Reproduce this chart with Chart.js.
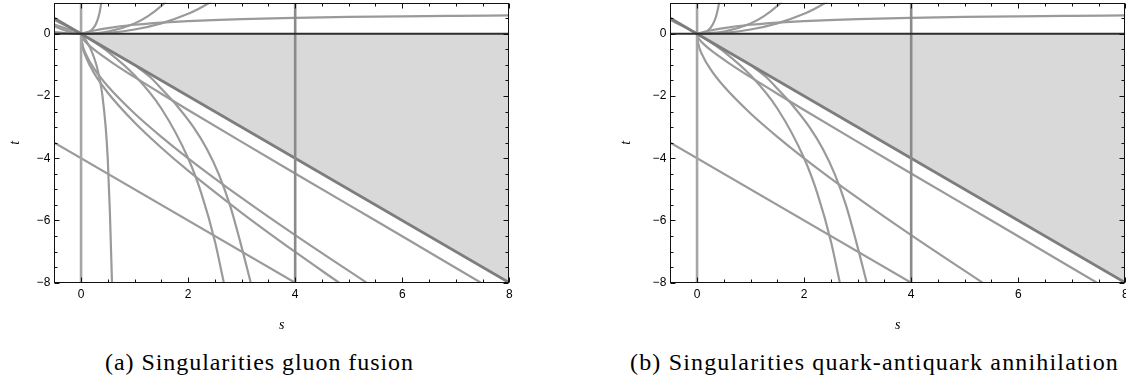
<!DOCTYPE html>
<html><head><meta charset="utf-8">
<script src="https://cdn.jsdelivr.net/npm/chart.js@4.4.1/dist/chart.umd.min.js"></script>
<style>
html,body{margin:0;padding:0;background:#fff;width:1126px;height:383px;overflow:hidden;position:relative}
canvas{position:absolute;top:0}
#ca{left:0px}
#cb{left:616px}
.cap{position:absolute;top:350px;font-size:24px;line-height:24px;white-space:nowrap;color:#000;font-family:'Liberation Serif',serif}
</style></head><body>
<canvas id="ca" width="560" height="345"></canvas>
<canvas id="cb" width="560" height="345"></canvas>
<div class="cap" id="capA">(a) Singularities gluon fusion</div>
<div class="cap" id="capB">(b) Singularities quark-antiquark annihilation</div>
<script>
// ---------- data (s, t values) ----------
const sTickValues = [0, 2, 4, 6, 8];
const tTickValues = [-8, -6, -4, -2, 0];
const sMinorTicks = [0.5, 1, 1.5, 2.5, 3, 3.5, 4.5, 5, 5.5, 6.5, 7, 7.5];
const tMinorTicks = [0.5, -0.5, -1, -1.5, -2.5, -3, -3.5, -4.5, -5, -5.5, -6.5, -7, -7.5];

const regionS = [0, 8];          const regionT = [0, -8];
const sZeroS = [0, 0];           const sZeroT = [1, -8];
const sFourS = [4, 4];           const sFourT = [1, -8];
const tZeroS = [-0.5, 8];        const tZeroT = [0, 0];
const edgeS = [-0.5, 8];         const edgeT = [0.5, -8];
const uFourS = [-0.5, 4];        const uFourT = [-3.5, -8];

const tu4S = [0, 0.02, 0.1, 0.25, 0.5, 1, 1.5, 2, 3, 4, 5.333];
const tu4T = [0, -0.293, -0.684, -1.133, -1.686, -2.562, -3.312, -4, -5.275, -6.472, -8];
const tuBigS = [0, 0.02, 0.1, 0.25, 0.5, 1, 1.5, 2, 3, 4, 4.82];
const tuBigT = [0, -0.335, -0.778, -1.281, -1.894, -2.852, -3.663, -4.4, -5.753, -7.012, -8];
const tuSmallS = [0, 0.01, 0.05, 0.15, 0.3, 0.6, 1, 1.5, 2, 3, 4, 5, 6, 7.47];
const tuSmallT = [0, -0.079, -0.193, -0.372, -0.583, -0.948, -1.394, -1.928, -2.449, -3.475, -4.49, -5.5, -6.507, -8];
const st4S = [-0.5, -0.25, 0, 0.25, 0.5, 1, 1.5, 2, 2.25, 2.5, 2.667];
const st4T = [0.444, 0.235, 0, -0.267, -0.571, -1.333, -2.4, -4, -5.143, -6.667, -8];
const steepS = [-0.5, -0.25, 0, 0.106, 0.183, 0.287, 0.364, 0.4, 0.46, 0.498, 0.537, 0.578];
const steepT = [0.3, 0.15, 0, -0.25, -0.5, -1, -1.6, -2, -3, -4, -5.66, -8];
const c317S = [0.9, 1.01, 1.29, 1.52, 1.81, 2.1, 2.35, 2.57, 2.78, 2.96, 3.17];
const c317T = [-0.8, -1.0, -1.39, -1.8, -2.35, -3.0, -3.7, -4.5, -5.5, -6.6, -8];

const arcAS = [-0.5, -0.25, 0, 0.15, 0.25, 0.3, 0.33, 0.35, 0.37, 0.385];
const arcAT = [0.245, 0.081, 0, 0.061, 0.231, 0.409, 0.573, 0.72, 0.913, 1.1];
const arcBS = [0, 0.15, 0.25, 0.3, 0.35, 0.38, 0.4, 0.415];
const arcBT = [0, 0.052, 0.189, 0.321, 0.533, 0.722, 0.889, 1.044];
const su4AS = [-0.5, 0, 0.5, 1, 1.25, 1.5, 1.6];
const su4AT = [0.056, 0, 0.071, 0.333, 0.568, 0.9, 1.067];
const su4BS = [0, 0.5, 1, 1.25, 1.5, 1.6];
const su4BT = [0, 0.071, 0.333, 0.568, 0.9, 1.067];
const wideS = [0, 0.5, 1, 1.5, 2, 2.2, 2.45];
const wideT = [0, 0.032, 0.139, 0.336, 0.645, 0.807, 1.044];
const flatS = [0, 0.1, 0.25, 0.5, 1, 1.5, 2, 3, 4, 5, 6, 7, 8];
const flatT = [0, 0.047, 0.106, 0.184, 0.291, 0.36, 0.409, 0.474, 0.514, 0.542, 0.562, 0.577, 0.59];

// ---------- styles ----------
const CURVE = {color: '#9a9a9a', width: 2.2, smooth: true, order: 10};
const HIDDEN = {color: '#9a9a9a', width: 2.2, smooth: true, order: 12};
const LINE  = {color: '#9a9a9a', width: 2.2, smooth: false, order: 10};
const ZERO  = {color: '#a6a6a6', width: 2.6, smooth: false, order: 8};
const EDGE  = {color: '#7d7d7d', width: 2.8, smooth: false, order: 6};
const FOUR  = {color: '#8a8a8a', width: 2.6, smooth: false, order: 5};
const TZERO = {color: '#2d2d2d', width: 2.0, smooth: false, order: 1};

const panelA = [
  {s: regionS, t: regionT, fill: '#d9d9d9', order: 11},
  {s: flatS, t: flatT, ...CURVE},
  {s: arcAS, t: arcAT, ...CURVE},
  {s: su4AS, t: su4AT, ...CURVE},
  {s: wideS, t: wideT, ...CURVE},
  {s: st4S, t: st4T, ...CURVE},
  {s: steepS, t: steepT, ...CURVE},
  {s: c317S, t: c317T, ...HIDDEN},
  {s: tu4S, t: tu4T, ...CURVE},
  {s: tuBigS, t: tuBigT, ...CURVE},
  {s: tuSmallS, t: tuSmallT, ...CURVE},
  {s: uFourS, t: uFourT, ...LINE},
  {s: sZeroS, t: sZeroT, ...ZERO},
  {s: edgeS, t: edgeT, ...EDGE},
  {s: sFourS, t: sFourT, ...FOUR},
  {s: tZeroS, t: tZeroT, ...TZERO}
];
const panelB = [
  {s: regionS, t: regionT, fill: '#d9d9d9', order: 11},
  {s: flatS, t: flatT, ...CURVE},
  {s: arcBS, t: arcBT, ...CURVE},
  {s: su4BS, t: su4BT, ...CURVE},
  {s: wideS, t: wideT, ...CURVE},
  {s: st4S, t: st4T, ...CURVE},
  {s: c317S, t: c317T, ...HIDDEN},
  {s: tu4S, t: tu4T, ...CURVE},
  {s: tuSmallS, t: tuSmallT, ...CURVE},
  {s: uFourS, t: uFourT, ...LINE},
  {s: sZeroS, t: sZeroT, ...ZERO},
  {s: edgeS, t: edgeT, ...EDGE},
  {s: sFourS, t: sFourT, ...FOUR},
  {s: tZeroS, t: tZeroT, ...TZERO}
];

const fmt = v => (v < 0 ? '\u2212' + Math.abs(v) : String(v));
const TICK_FONT = '"Liberation Sans", Arial, sans-serif';
const TITLE_FONT = '"Liberation Serif", "Times New Roman", serif';

const frameTicks = {
  id: 'frameTicks',
  afterDraw(chart) {
    const {ctx, chartArea: a, scales: {x, y}} = chart;
    const L = Math.round(a.left) + 0.5, R = Math.round(a.right) - 0.5;
    const T = Math.round(a.top) + 0.5, B = Math.round(a.bottom) - 0.5;
    ctx.save();
    ctx.strokeStyle = '#111';
    ctx.lineWidth = 1;
    ctx.beginPath();
    const tickX = (v, len) => {
      const px = Math.round(x.getPixelForValue(v)) + 0.5;
      ctx.moveTo(px, B); ctx.lineTo(px, B - len);
      ctx.moveTo(px, T); ctx.lineTo(px, T + len);
    };
    const tickY = (v, len) => {
      const py = Math.round(y.getPixelForValue(v)) + 0.5;
      ctx.moveTo(L, py); ctx.lineTo(L + len, py);
      ctx.moveTo(R, py); ctx.lineTo(R - len, py);
    };
    sTickValues.forEach(v => tickX(v, 5));
    sMinorTicks.forEach(v => tickX(v, 3));
    tTickValues.forEach(v => tickY(v, 5));
    tMinorTicks.forEach(v => tickY(v, 3));
    ctx.stroke();
    ctx.strokeRect(L, T, R - L, B - T);
    ctx.restore();
  }
};

function makeChart(id, curves, yTitlePad) {
  const datasets = curves.map(c => ({
    data: c.s.map((s, i) => ({x: s, y: c.t[i]})),
    borderColor: c.fill ? 'rgba(0,0,0,0)' : c.color,
    borderWidth: c.fill ? 1 : c.width,
    backgroundColor: c.fill || 'rgba(0,0,0,0)',
    fill: c.fill ? {value: 0} : false,
    pointRadius: 0,
    tension: 0,
    cubicInterpolationMode: c.smooth ? 'monotone' : 'default',
    order: c.order,
    clip: 0
  }));
  return new Chart(document.getElementById(id), {
    type: 'line',
    data: {datasets},
    options: {
      responsive: false, animation: false, devicePixelRatio: 1, events: [],
      layout: {padding: {left: 0, right: 50.7, top: 2.7, bottom: 0}},
      plugins: {legend: {display: false}, tooltip: {enabled: false}},
      scales: {
        x: {
          type: 'linear', min: -0.5, max: 8,
          grid: {display: false, drawTicks: false}, border: {display: false},
          afterBuildTicks: sc => { sc.ticks = sTickValues.map(v => ({value: v})); },
          afterFit: sc => { sc.height = 345 - 282.7; sc.paddingLeft = 0; sc.paddingRight = 0; },
          ticks: {padding: 5, color: '#000', font: {family: TICK_FONT, size: 12}, callback: v => fmt(v), maxRotation: 0},
          title: {display: true, text: 's', color: '#000', font: {family: TITLE_FONT, size: 14, style: 'italic'}, padding: {top: 0, bottom: 11.6}}
        },
        y: {
          type: 'linear', min: -8, max: 1,
          grid: {display: false, drawTicks: false}, border: {display: false},
          afterBuildTicks: sc => { sc.ticks = tTickValues.map(v => ({value: v})); },
          afterFit: sc => { sc.width = 54.3; sc.paddingTop = 0; sc.paddingBottom = 0; },
          ticks: {padding: 4, color: '#000', font: {family: TICK_FONT, size: 12}, callback: v => fmt(v)},
          title: {display: true, text: 't', color: '#000', font: {family: TITLE_FONT, size: 14, style: 'italic'}, padding: {top: yTitlePad, bottom: 0}}
        }
      }
    },
    plugins: [frameTicks]
  });
}

makeChart('ca', panelA, 6.6);
makeChart('cb', panelB, 2.3);

function fitCaption(id, left, right) {
  const el = document.getElementById(id);
  el.style.letterSpacing = '0px';
  const n = el.textContent.length;
  const w = el.getBoundingClientRect().width;
  el.style.letterSpacing = ((right - left - w) / n) + 'px';
  el.style.left = left + 'px';
}
function fitAll() {
  fitCaption('capA', 105, 414);
  fitCaption('capB', 630, 1119);
}
fitAll();
if (document.fonts && document.fonts.ready) document.fonts.ready.then(fitAll);
</script>
</body></html>
